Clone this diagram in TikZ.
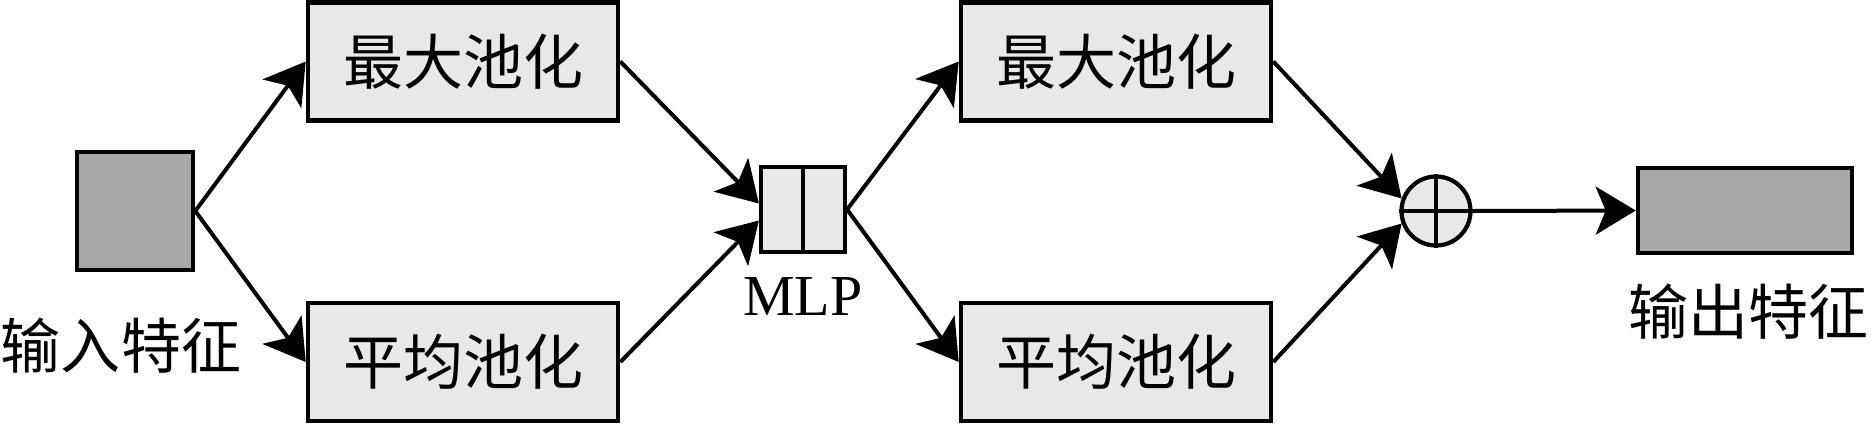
\documentclass[tikz,border=0pt]{standalone}
\usepackage{fontspec}
\setmainfont{Liberation Serif}
\newfontfamily\cjk{Noto Sans CJK SC}
\usetikzlibrary{arrows.meta,calc}
\definecolor{boxfill}{RGB}{232,232,232}
\definecolor{featfill}{RGB}{168,168,168}
\begin{document}
\begin{tikzpicture}[x=0.5pt,y=-0.5pt,
  pool/.style={draw,line width=2.3pt,fill=boxfill,minimum width=155pt,minimum height=59pt,inner sep=0pt,font=\cjk\fontsize{30pt}{30pt}\selectfont},
  feat/.style={draw,line width=2.3pt,fill=featfill,inner sep=0pt},
  conn/.style={line width=2pt,-{Stealth[length=20pt,width=24pt,inset=5pt]}},
  lbl/.style={inner sep=0pt,font=\cjk\fontsize{30pt}{30pt}\selectfont},
  thin/.style={line width=2.1pt}]
\useasboundingbox (0,0) rectangle (1872,424);
% feature maps
\node[feat,minimum width=58pt,minimum height=59pt] (in) at (135,211) {};
\node[feat,minimum width=107pt,minimum height=42.5pt] (out) at (1745,210.5) {};
\node[lbl] (inl) at (121,346) {输入特征};
\node[lbl] (outl) at (1748,312) {输出特征};
% pooling boxes
\node[pool] (max1) at (463,61.5) {最大池化};
\node[pool] (avg1) at (463,362) {平均池化};
\node[pool] (max2) at (1116,61.5) {最大池化};
\node[pool] (avg2) at (1116,362) {平均池化};
% MLP
\node[draw,thin,fill=boxfill,minimum width=42pt,minimum height=42.5pt,inner sep=0pt] (mlp) at (803,209.5) {};
\draw[thin] (mlp.north) -- (mlp.south);
\node[inner sep=0pt,anchor=base,font=\fontsize{29pt}{29pt}\selectfont] (mlpl) at (803,315) {MLP};
% sum
\node[circle,draw,thin,fill=boxfill,minimum size=34.5pt,inner sep=0pt] (sum) at (1436,211) {};
\draw[thin] (sum.north) -- (sum.south) (sum.west) -- (sum.east);
% connectors
\draw[conn] (in.east) -- (max1.west);
\draw[conn] (in.east) -- (avg1.west);
\draw[conn] (max1.east) -- ($(mlp.west)+(0,-6)$);
\draw[conn] (avg1.east) -- ($(mlp.west)+(0,11)$);
\draw[conn] (mlp.east) -- (max2.west);
\draw[conn] (mlp.east) -- (avg2.west);
\draw[conn] (max2.east) -- (sum.160);
\draw[conn] (avg2.east) -- (sum.200);
\draw[conn] (sum.east) -- (out.west);
\end{tikzpicture}
\end{document}
